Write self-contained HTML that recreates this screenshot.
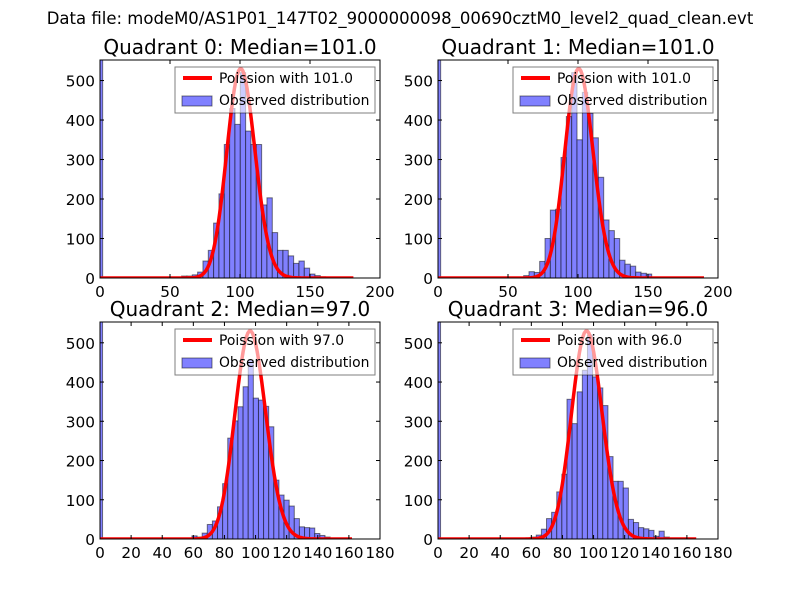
<!DOCTYPE html>
<html><head><meta charset="utf-8">
<style>
body{margin:0;background:#fff;}
svg text{font-family:"DejaVu Sans","Liberation Sans",sans-serif;}
</style></head>
<body>
<svg id="fig" width="800" height="600" xmlns="http://www.w3.org/2000/svg">
<rect width="800" height="600" fill="#fff"/>
<text x="400" y="24" font-size="16.5" text-anchor="middle">Data file: modeM0/AS1P01_147T02_9000000098_00690cztM0_level2_quad_clean.evt</text>
</svg>
<script>
// ---- data ----
const quadrantNames = ["Quadrant 0","Quadrant 1","Quadrant 2","Quadrant 3"];
const medians = [101.0, 101.0, 97.0, 96.0];
const zeroBinCounts = [600, 600, 600, 600];
const binStarts = [58.3, 61.2, 59.1, 56.6];
const binWidths = [3.81, 3.81, 3.29, 3.29];
const counts0 = [5,5,8,15,43,70,139,213,338,429,389,520,372,338,338,185,203,115,70,70,56,37,43,25,10,6,3];
const counts1 = [6,16,14,42,100,172,174,305,409,520,350,470,417,355,255,147,120,100,45,35,30,15,12,10,2,0,1];
const counts2 = [8,5,15,37,46,82,141,257,301,337,388,456,359,354,338,286,150,112,99,84,52,31,29,28,14,9,5];
const counts3 = [3,5,10,25,52,68,120,165,356,294,375,430,520,413,385,340,210,147,147,130,50,42,29,26,22,7,20,5,2];
const curveEnds = [181, 190, 162, 166];
const curvePeaks = [530, 530, 530, 530];
const xMaxes = [200, 200, 180, 180];
const yMaxes = [552, 552, 553, 553];
const xTickLabels0 = [0,50,100,150,200];
const xTickLabels1 = [0,20,40,60,80,100,120,140,160,180];
const yTickLabels = [0,100,200,300,400,500];
const allCounts = [counts0,counts1,counts2,counts3];

const NS = "http://www.w3.org/2000/svg";
const svg = document.getElementById("fig");
function mk(tag, attrs, parent){
  const e = document.createElementNS(NS, tag);
  for (const k in attrs) e.setAttribute(k, attrs[k]);
  (parent||svg).appendChild(e);
  return e;
}
function lgamma(x){
  if (x < 7){ let r=0; while(x<7){ r -= Math.log(x); x+=1;} return r+lgamma(x); }
  return (x-0.5)*Math.log(x) - x + 0.5*Math.log(2*Math.PI) + 1/(12*x) - 1/(360*x*x*x);
}
function pois(k, lam){ return Math.exp(k*Math.log(lam) - lam - lgamma(k+1)); }

const boxes = [[100,60,380,278],[438,60,718,278],[100,322,380,539],[438,322,718,539]];
for (let q=0;q<4;q++){
  const [L,T,R,B] = boxes[q];
  const g = mk("g", {});
  
  
  const xs = v => L + (v/xMaxes[q])*(R-L);
  const ys = v => B - (v/yMaxes[q])*(B-T);
  const clip = mk("clipPath", {id:"c"+q}, g);
  mk("rect", {x:L,y:T,width:R-L,height:B-T}, clip);
  const plot = mk("g", {"clip-path":"url(#c"+q+")"}, g);
  const zb = mk("rect", {x:xs(0), y:ys(zeroBinCounts[q]), width:xs(binWidths[q]*0.5)-xs(0), height:ys(0)-ys(zeroBinCounts[q]), fill:"#8080ff", stroke:"#000", "stroke-opacity":0.5, "stroke-width":1}, plot);
  
  
  const cs = allCounts[q];
  for (let i=0;i<cs.length;i++){
    const x0 = binStarts[q] + i*binWidths[q];
    const r = mk("rect", {x:xs(x0), y:ys(cs[i]), width:xs(x0+binWidths[q])-xs(x0), height:ys(0)-ys(cs[i]), fill:"#8080ff", stroke:"#000", "stroke-opacity":0.5, "stroke-width":1}, plot);
    
    
  }
  const lam = medians[q];
  const pk = pois(Math.floor(lam), lam);
  let d = "";
  for (let k=0;k<=curveEnds[q];k++){
    const v = pois(k, lam)/pk*curvePeaks[q];
    d += (k?"L":"M")+xs(k).toFixed(2)+","+ys(v).toFixed(2);
  }
  const pl = mk("path", {d:d, fill:"none", stroke:"#ff0000", "stroke-width":3.5, "stroke-linejoin":"round"}, plot);
  
  
  mk("rect", {x:L,y:T,width:R-L,height:B-T,fill:"none",stroke:"#000","stroke-width":1}, g);
  const xt = q<2 ? xTickLabels0 : xTickLabels1;
  for (const t of xt){
    const x = xs(t);
    mk("line",{x1:x,y1:B,x2:x,y2:B-4,stroke:"#000"},g);
    mk("line",{x1:x,y1:T,x2:x,y2:T+4,stroke:"#000"},g);
    const tx = mk("text",{x:x,y:B+19,"font-size":15.3,"text-anchor":"middle"},g);
    tx.textContent = t;
    
    
  }
  for (const t of yTickLabels){
    const y = ys(t);
    mk("line",{x1:L,y1:y,x2:L+4,y2:y,stroke:"#000"},g);
    mk("line",{x1:R,y1:y,x2:R-4,y2:y,stroke:"#000"},g);
    const ty = mk("text",{x:L-5,y:y+6,"font-size":15.3,"text-anchor":"end"},g);
    ty.textContent = t;
    
    
  }
  const tt = mk("text",{x:(L+R)/2,y:T-6,"font-size":20,"text-anchor":"middle"},g);
  tt.textContent = quadrantNames[q]+": Median="+medians[q].toFixed(1);
  
  
  const lg = mk("g",{},g);
  
  
  const lx = L+75, ly = T+7;
  mk("rect",{x:lx,y:ly,width:200,height:46,fill:"#fff","fill-opacity":0.6,stroke:"#000","stroke-opacity":0.5},lg);
  mk("line",{x1:lx+8,y1:ly+11,x2:lx+37,y2:ly+11,stroke:"#ff0000","stroke-width":4},lg);
  const t1 = mk("text",{x:lx+44,y:ly+16,"font-size":13.9},lg);
  t1.textContent = "Poission with "+medians[q].toFixed(1);
  
  
  mk("rect",{x:lx+7,y:ly+29,width:30,height:10,fill:"#8080ff",stroke:"#000","stroke-opacity":0.5},lg);
  const t2 = mk("text",{x:lx+44,y:ly+38,"font-size":13.9},lg);
  t2.textContent = "Observed distribution";
  
  
}
</script>
</body></html>
